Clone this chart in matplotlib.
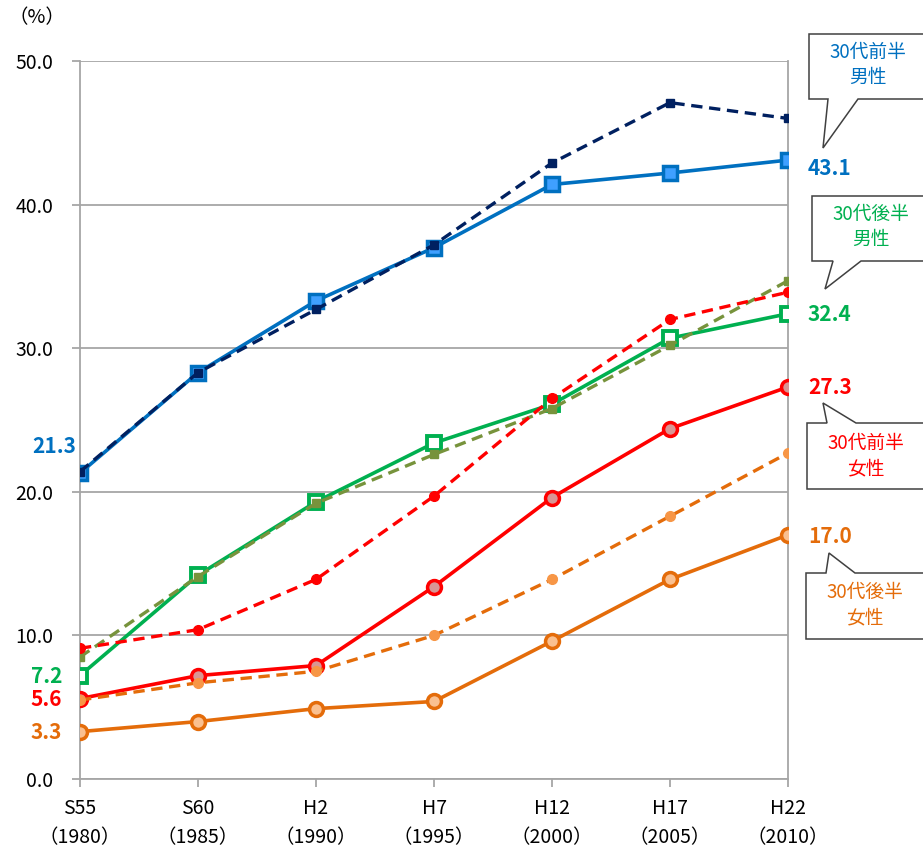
import matplotlib
matplotlib.use("Agg")
import matplotlib.pyplot as plt
from matplotlib.patches import Polygon

plt.rcParams['font.family'] = ['Noto Sans CJK JP', 'DejaVu Sans']

# データ（%）
categories = ["S55\n（1980）", "S60\n（1985）", "H2\n（1990）", "H7\n（1995）",
              "H12\n（2000）", "H17\n（2005）", "H22\n（2010）"]

male_early = [21.3, 28.3, 33.3, 37.0, 41.4, 42.2, 43.1]
male_early_ref = [21.4, 28.3, 32.7, 37.2, 42.9, 47.1, 46.0]
male_late = [7.2, 14.2, 19.3, 23.4, 26.1, 30.7, 32.4]
male_late_ref = [8.5, 14.1, 19.2, 22.6, 25.8, 30.2, 34.7]
female_early = [5.6, 7.2, 7.9, 13.4, 19.6, 24.4, 27.3]
female_early_ref = [9.1, 10.4, 13.9, 19.7, 26.5, 32.0, 33.9]
female_late = [3.3, 4.0, 4.9, 5.4, 9.6, 13.9, 17.0]
female_late_ref = [5.5, 6.7, 7.5, 10.0, 13.9, 18.3, 22.7]

W, H = 923, 852
fig = plt.figure(figsize=(W / 100, H / 100), dpi=100)
ax = fig.add_axes([80 / W, 1 - 779 / H, 708 / W, 718 / H])

x = list(range(len(categories)))
BLUE, NAVY = "#0070C0", "#002060"
GREEN, OLIVE = "#00B050", "#77933C"
RED = "#FF0000"
ORANGE, LORANGE = "#E46C0A", "#F79646"

lw = 2.6
# 実線（主系列）
ax.plot(x, male_early, color=BLUE, lw=lw, marker="s", ms=10, mfc="#3FA0FF", mec=BLUE, mew=2.5, zorder=3)
ax.plot(x, male_late, color=GREEN, lw=lw, marker="s", ms=10, mfc="white", mec=GREEN, mew=2.8, zorder=3)
ax.plot(x, female_early, color=RED, lw=lw, marker="o", ms=10, mfc="#D99694", mec=RED, mew=2.5, zorder=3)
ax.plot(x, female_late, color=ORANGE, lw=lw, marker="o", ms=10, mfc="#FAC090", mec=ORANGE, mew=2.5, zorder=3)

# 破線
dash = (0, (3.4, 2.0))
ax.plot(x, male_early_ref, color=NAVY, lw=2.4, ls=dash, marker="s", ms=5.5, mfc=NAVY, mec=NAVY, zorder=4)
ax.plot(x, male_late_ref, color=OLIVE, lw=2.4, ls=dash, marker="s", ms=5.5, mfc=OLIVE, mec=OLIVE, zorder=4)
ax.plot(x, female_early_ref, color=RED, lw=2.4, ls=dash, marker="o", ms=7, mfc=RED, mec=RED, zorder=4)
ax.plot(x, female_late_ref, color=ORANGE, lw=2.4, ls=dash, marker="o", ms=7, mfc=LORANGE, mec=LORANGE, zorder=4)

ax.set_xlim(0, len(categories) - 1)
ax.set_ylim(0, 50)
ax.set_yticks(range(0, 51, 10))
ax.set_yticklabels([f"{v:.1f}" for v in range(0, 51, 10)])
ax.set_xticks(x)
ax.set_xticklabels(categories, linespacing=1.45)
ax.grid(axis="y", color="#A6A6A6", lw=1.3)
ax.set_axisbelow(True)
for s in ["left", "right", "bottom"]:
    ax.spines[s].set_color("#A6A6A6")
    ax.spines[s].set_linewidth(1.3)
ax.spines["top"].set_visible(False)
ax.tick_params(axis="y", length=6, color="#A6A6A6", width=1.3, pad=13, labelsize=14)
ax.tick_params(axis="x", length=6, color="#A6A6A6", width=1.3, pad=8, labelsize=14)

fig.text(8 / W, 1 - 18 / H, "（%）", fontsize=14, va="center", ha="left")

# 値ラベル
last = len(categories) - 1
for vals, col, dy in [(male_early, BLUE, -8), (male_late, GREEN, -1),
                      (female_early, RED, -1), (female_late, ORANGE, -2)]:
    ax.annotate(f"{vals[-1]:.1f}", (last, vals[-1]), xytext=(20, dy), textcoords="offset pixels",
                color=col, fontsize=15, fontweight="bold", ha="left", va="center", annotation_clip=False)
for vals, col, dx, dy in [(male_early, BLUE, -4, 27), (male_late, GREEN, -18, -1),
                          (female_early, RED, -18, -1), (female_late, ORANGE, -18, -1)]:
    ax.annotate(f"{vals[0]:.1f}", (0, vals[0]), xytext=(dx, dy), textcoords="offset pixels",
                color=col, fontsize=15, fontweight="bold", ha="right", va="center", annotation_clip=False)


# 吹き出し
def callout(left, top, bottom, p1, p2, tip, where, text, tx, ty, color):
    right = 940
    if where == "bottom":
        pts = [(left, top), (right, top), (right, bottom), (p2, bottom), tip, (p1, bottom), (left, bottom)]
    else:
        pts = [(left, top), (p1, top), tip, (p2, top), (right, top), (right, bottom), (left, bottom)]
    pts = [(px / W, 1 - py / H) for px, py in pts]
    fig.patches.append(Polygon(pts, closed=True, fc="white", ec="#404040", lw=1.1,
                               transform=fig.transFigure, figure=fig))
    fig.text(tx / W, 1 - ty / H, text, color=color, fontsize=13.5, ha="center", va="center",
             linespacing=1.3)


callout(809, 34, 99, 828, 858, (823, 148), "bottom", "30代前半\n男性", 868, 65, BLUE)
callout(812, 196, 261, 833, 861, (825, 289), "bottom", "30代後半\n男性", 871, 227, GREEN)
callout(807, 423, 489, 827, 856, (823, 403), "top", "30代前半\n女性", 866, 456, RED)
callout(806, 573, 639, 826, 855, (829, 553), "top", "30代後半\n女性", 865, 605, ORANGE)

fig.savefig("out.png", dpi=100)
